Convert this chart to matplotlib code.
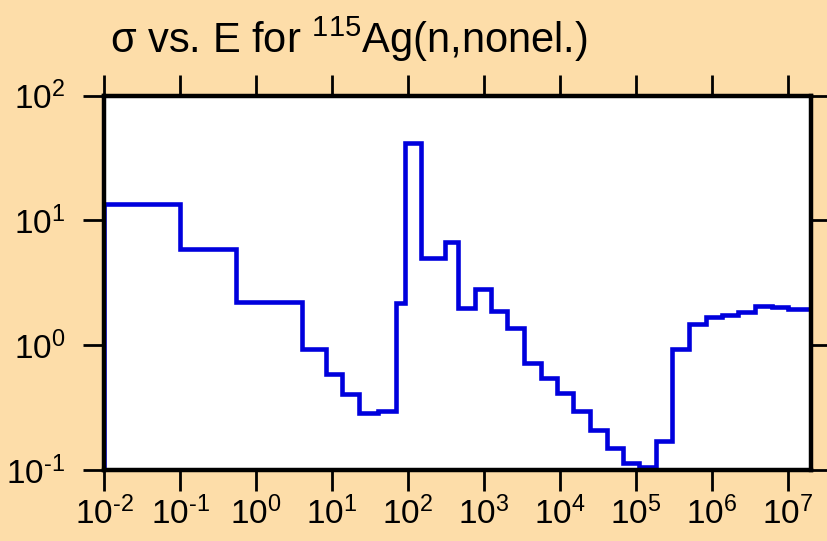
import numpy as np
import matplotlib
matplotlib.use('Agg')
import matplotlib.pyplot as plt

plt.rcParams['font.family'] = ['Liberation Sans', 'DejaVu Sans']
plt.rcParams['mathtext.fontset'] = 'custom'
plt.rcParams['mathtext.rm'] = 'Liberation Sans'
plt.rcParams['mathtext.it'] = 'Liberation Sans:italic'
plt.rcParams['mathtext.bf'] = 'Liberation Sans:bold'

# group boundaries (eV) and cross section (b)
energy_edges = [0.01, 0.1, 0.54, 4.0, 8.24, 13.6, 22.6, 40, 68.9, 91.3, 148,
                307, 459, 762, 1239, 2030, 3370, 5590, 9080, 1.5e4, 2.49e4,
                4.14e4, 6.84e4, 1.11e5, 1.84e5, 3.03e5, 5.02e5, 8.32e5,
                1.35e6, 2.24e6, 3.71e6, 6.16e6, 1.02e7, 2e7]
sigma = [13.4, 5.89, 2.23, 0.925, 0.583, 0.403, 0.284, 0.296, 2.16, 41.4,
         4.96, 6.66, 1.97, 2.80, 1.88, 1.36, 0.715, 0.548, 0.411, 0.296,
         0.209, 0.151, 0.113, 0.106, 0.171, 0.931, 1.47, 1.67, 1.74, 1.83,
         2.07, 2.03, 1.94]
x_ticks = [1e-2, 1e-1, 1e0, 1e1, 1e2, 1e3, 1e4, 1e5, 1e6, 1e7]
x_labels = ['$10^{\\text{-2}}$', '$10^{\\text{-1}}$', '$10^{0}$', '$10^{1}$',
            '$10^{2}$', '$10^{3}$', '$10^{4}$', '$10^{5}$', '$10^{6}$', '$10^{7}$']
y_ticks = [1e-1, 1e0, 1e1, 1e2]
y_labels = ['$10^{\\text{-1}}$', '$10^{0}$', '$10^{1}$', '$10^{2}$']

bg = '#FDDDA9'
fig = plt.figure(figsize=(8.27, 5.41), dpi=100, facecolor=bg)
ax = fig.add_axes([104.3 / 827, 1 - 470 / 541, (810.5 - 104.3) / 827, (470 - 95.5) / 541])
ax.set_facecolor('white')

ax.stairs(sigma, energy_edges, baseline=0.1, color='#0000DD', linewidth=3.3)

ax.set_xscale('log')
ax.set_yscale('log')
ax.set_xlim(1e-2, 2e7)
ax.set_ylim(1e-1, 1e2)

ax.set_xticks(x_ticks)
ax.set_xticklabels(x_labels)
ax.set_yticks(y_ticks)
ax.set_yticklabels(y_labels)
ax.minorticks_off()
ax.tick_params(axis='both', which='major', direction='out', length=15, width=2,
               labelsize=24, color='black', top=True, right=True)
ax.tick_params(axis='x', pad=4)
ax.tick_params(axis='y', pad=13)

for s in ax.spines.values():
    s.set_linewidth(3.2)
    s.set_color('black')

fig.text(110 / 827, 1 - 52.7 / 541, 'σ vs. E for $^{115}$Ag(n,nonel.)',
         fontsize=30, ha='left', va='baseline')

fig.savefig('out.png', dpi=100, facecolor=bg)
